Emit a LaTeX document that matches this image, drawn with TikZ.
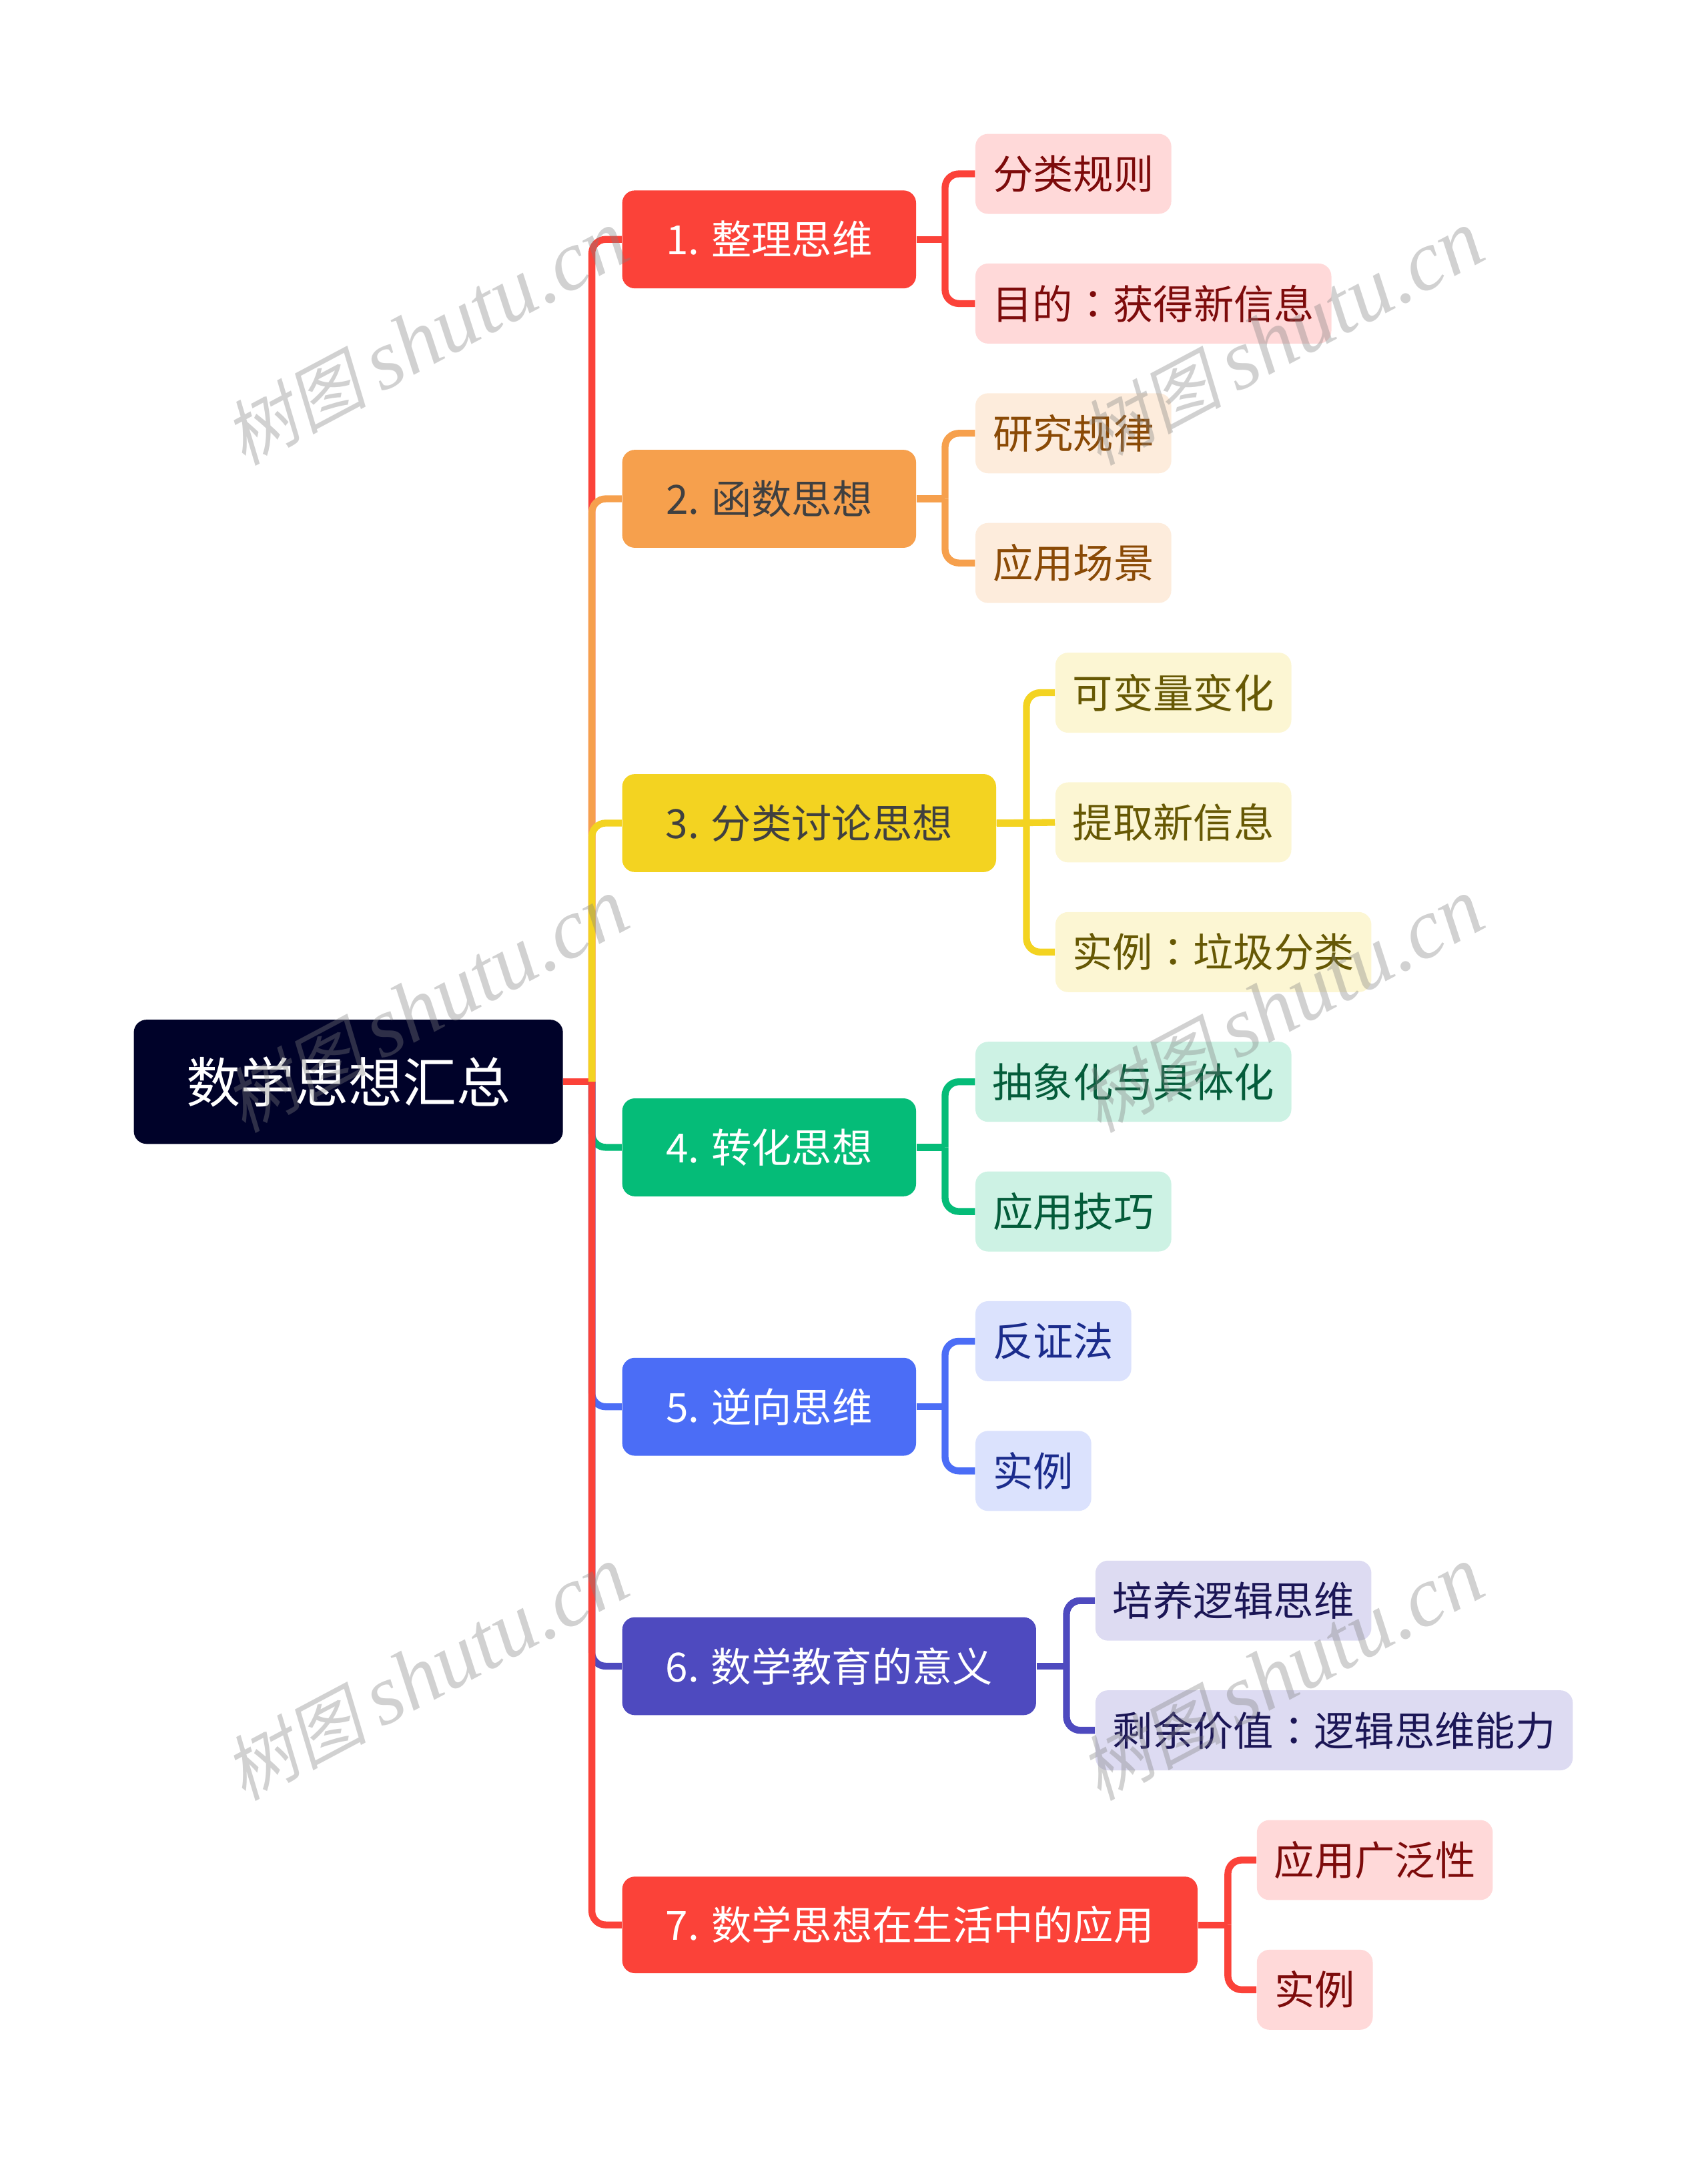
\documentclass[tikz,border=0pt]{standalone}
\usepackage{fontspec}
\setmainfont{Noto Sans CJK SC}
\newfontfamily\tcfont{Noto Sans CJK TC}
\newfontfamily\wmlatin{Liberation Serif}[ItalicFont=* Italic]
\newfontfamily\wmcjk{Noto Sans CJK SC}[FakeSlant=0.2]
\definecolor{cRoot}{HTML}{000229}
\definecolor{cR}{HTML}{FB4239}\definecolor{cRl}{HTML}{FFD9D9}\definecolor{cRt}{HTML}{7D0B0B}
\definecolor{cO}{HTML}{F6A04D}\definecolor{cOl}{HTML}{FDECDC}\definecolor{cOt}{HTML}{8A4A06}
\definecolor{cY}{HTML}{F3D321}\definecolor{cYl}{HTML}{FCF6D3}\definecolor{cYt}{HTML}{665804}
\definecolor{cG}{HTML}{05BC78}\definecolor{cGl}{HTML}{CDF2E4}\definecolor{cGt}{HTML}{045C3A}
\definecolor{cB}{HTML}{4B6DF6}\definecolor{cBl}{HTML}{DBE2FD}\definecolor{cBt}{HTML}{1B2C8C}
\definecolor{cP}{HTML}{4E4ABF}\definecolor{cPl}{HTML}{DDDBF2}\definecolor{cPt}{HTML}{1B1656}
\tikzset{
  boxbase/.style={rectangle,rounded corners=5.5pt,inner sep=0pt,align=center},
  rootbox/.style={boxbase,fill=cRoot,text=white,font=\fontsize{23.5}{28}\selectfont},
  topbox/.style 2 args={boxbase,fill=#1,text=#2,font=\fontsize{17.5}{21}\selectfont},
  leafbox/.style 2 args={boxbase,fill=#1,text=#2,font=\fontsize{17.5}{21}\selectfont},
  conn/.style={line width=3pt,draw=#1,rounded corners=6pt},
  wmark/.style={text=gray,text opacity=0.36,rotate=28,inner sep=0pt}
}
\newcommand\nbox[7]{%
  \pgfmathsetmacro\bw{(#4-#3)*0.6}\pgfmathsetmacro\bh{(#6-#5)*0.6}%
  \pgfmathsetmacro\bx{(#3+#4)/2}\pgfmathsetmacro\by{(#5+#6)/2}%
  \node[#1,minimum width=\bw pt,minimum height=\bh pt] (#2) at (\bx,\by) {#7};}
\newcommand\fcolon{{\tcfont ：}}
\newcommand\wm[3]{\node[wmark] (#1) at (#2,#3) {{\fontsize{31}{40}\selectfont\wmcjk 树图}\hspace{6pt}{\fontsize{37}{40}\selectfont\wmlatin\itshape shutu.cn}};}
\begin{document}
\begin{tikzpicture}[x=0.6pt,y=-0.6pt]
\useasboundingbox (0,0) rectangle (1238,1568.3);
\nbox{rootbox}{root}{97}{408}{739}{829}{数学思想汇总}
\nbox{topbox={cR}{white}}{a}{451}{664}{138}{209}{1. 整理思维}
\nbox{topbox={cO}{black!75}}{b}{451}{664}{326}{397}{2. 函数思想}
\nbox{topbox={cY}{black!75}}{c}{451}{722}{561}{632}{3. 分类讨论思想}
\nbox{topbox={cG}{white}}{d}{451}{664}{796}{867}{4. 转化思想}
\nbox{topbox={cB}{white}}{e}{451}{664}{984}{1055}{5. 逆向思维}
\nbox{topbox={cP}{white}}{f}{451}{751}{1172}{1243}{6. 数学教育的意义}
\nbox{topbox={cR}{white}}{g}{451}{868}{1360}{1430}{7. 数学思想在生活中的应用}
\nbox{leafbox={cRl}{cRt}}{a1}{707}{849}{97}{155}{分类规则}
\nbox{leafbox={cRl}{cRt}}{a2}{707}{965}{191}{249}{目的\fcolon 获得新信息}
\nbox{leafbox={cOl}{cOt}}{b1}{707}{849}{285}{343}{研究规律}
\nbox{leafbox={cOl}{cOt}}{b2}{707}{849}{379}{437}{应用场景}
\nbox{leafbox={cYl}{cYt}}{c1}{765}{936}{473}{531}{可变量变化}
\nbox{leafbox={cYl}{cYt}}{c2}{765}{936}{567}{625}{提取新信息}
\nbox{leafbox={cYl}{cYt}}{c3}{765}{994}{661}{719}{实例\fcolon 垃圾分类}
\nbox{leafbox={cGl}{cGt}}{d1}{707}{936}{755}{813}{抽象化与具体化}
\nbox{leafbox={cGl}{cGt}}{d2}{707}{849}{849}{907}{应用技巧}
\nbox{leafbox={cBl}{cBt}}{e1}{707}{820}{943}{1001}{反证法}
\nbox{leafbox={cBl}{cBt}}{e2}{707}{791}{1037}{1095}{实例}
\nbox{leafbox={cPl}{cPt}}{f1}{794}{994}{1131}{1189}{培养逻辑思维}
\nbox{leafbox={cPl}{cPt}}{f2}{794}{1140}{1225}{1283}{剩余价值\fcolon 逻辑思维能力}
\nbox{leafbox={cRl}{cRt}}{g1}{911}{1082}{1319}{1377}{应用广泛性}
\nbox{leafbox={cRl}{cRt}}{g2}{911}{995}{1413}{1471}{实例}
% trunk
\coordinate (tr) at (429,0);
\draw[conn=cR] (root.east) -- (tr|-root.east);
\foreach \n/\c in {a/cR,b/cO,c/cY,d/cG,e/cB,f/cP,g/cR}
  \draw[conn=\c] (tr|-root.east) |- (\n.west);
% branches
\foreach \p/\c/\xx/\kids in {a/cR/685/{a1,a2},b/cO/685/{b1,b2},c/cY/744/{c1,c3},d/cG/685/{d1,d2},e/cB/685/{e1,e2},f/cP/773/{f1,f2},g/cR/890/{g1,g2}}{
  \coordinate (j) at (\xx,0);
  \draw[conn=\c] (\p.east) -- (j|-\p.east);
  \foreach \k in \kids
    \draw[conn=\c] (j|-\p.east) |- (\k.west);
}
\draw[conn=cY] (c.east) -- (c2.west);
% watermarks
\wm{w1}{309}{245}\wm{w2}{929}{245}
\wm{w3}{309}{729}\wm{w4}{929}{729}
\wm{w5}{309}{1213}\wm{w6}{929}{1213}
\end{tikzpicture}
\end{document}
